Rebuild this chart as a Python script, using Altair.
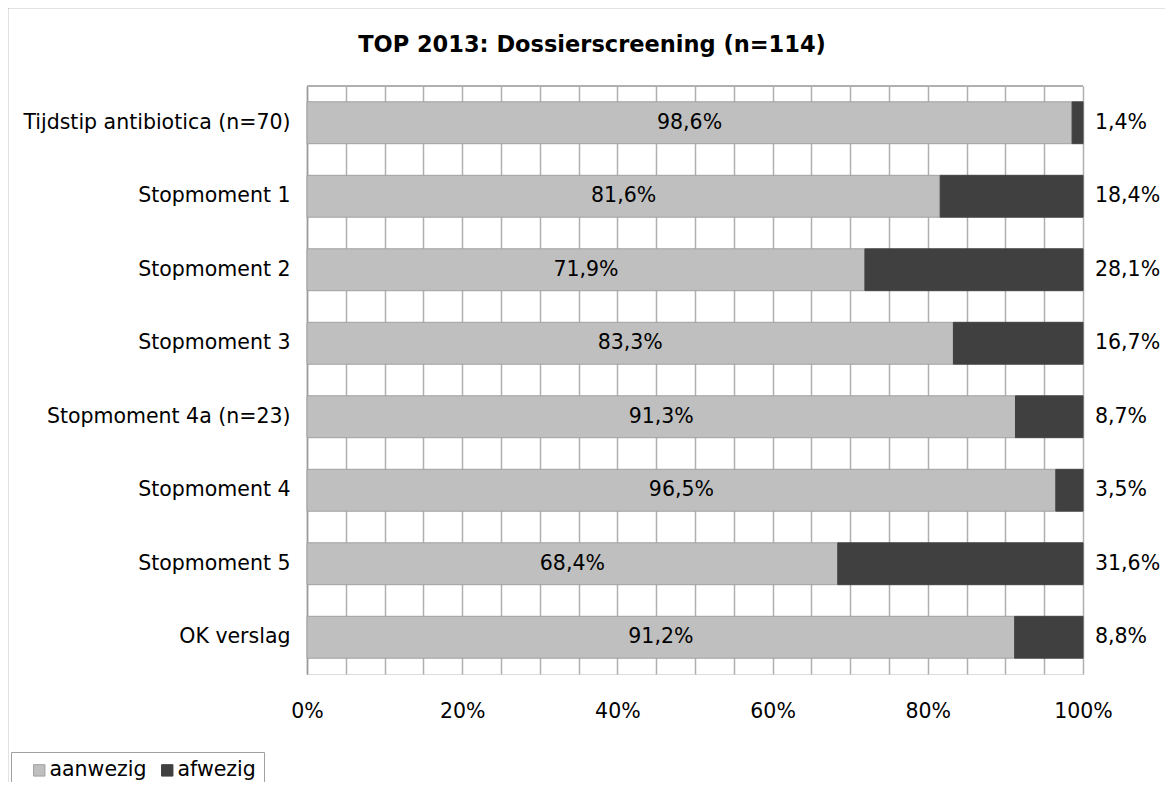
import altair as alt
import pandas as pd

title_text = "TOP 2013: Dossierscreening (n=114)"
categories = [
    "Tijdstip antibiotica (n=70)",
    "Stopmoment 1",
    "Stopmoment 2",
    "Stopmoment 3",
    "Stopmoment 4a (n=23)",
    "Stopmoment 4",
    "Stopmoment 5",
    "OK verslag",
]
aanwezig = [98.6, 81.6, 71.9, 83.3, 91.3, 96.5, 68.4, 91.2]
afwezig = [1.4, 18.4, 28.1, 16.7, 8.7, 3.5, 31.6, 8.8]
series = ["aanwezig", "afwezig"]
colors = ["#BFBFBF", "#404040"]
strokes = ["#A0A0A0", "#404040"]
x_ticks = list(range(0, 101, 5))

FONT = "DejaVu Sans"
FS = 20.5

rows = []
for c, a, b in zip(categories, aanwezig, afwezig):
    rows.append({"category": c, "status": "aanwezig", "value": a, "order": 0,
                 "label": f"{a:.1f}".replace(".", ",") + "%"})
    rows.append({"category": c, "status": "afwezig", "value": b, "order": 1,
                 "label": f"{b:.1f}".replace(".", ",") + "%"})
df = pd.DataFrame(rows)

W, H = 776, 588
PAD_L, PAD_T, PAD_R, PAD_B = 299, 78, 82, 108

x_axis = alt.Axis(values=x_ticks, grid=True, gridColor="#B0B0B0", gridWidth=1.5,
                  domain=False, ticks=False, labelFontSize=FS, labelFont=FONT,
                  labelColor="#000000", labelPadding=27, labelOverlap=False,
                  labelFlush=False,
                  labelExpr="datum.value % 20 == 0 ? datum.value + '%' : ''")
x_scale = alt.Scale(domain=[0, 100], nice=False)
y_axis = alt.Axis(labelFontSize=FS, labelFont=FONT, labelColor="#000000",
                  labelPadding=17, ticks=False, domainColor="#9A9A9A",
                  domainWidth=1.5, labelLimit=400)
y_scale = alt.Scale(paddingInner=0.43, paddingOuter=0.215)


def y_enc():
    return alt.Y("category:N", sort=categories, title=None, scale=y_scale, axis=y_axis)


bars = alt.Chart(df).mark_bar(strokeWidth=1).encode(
    x=alt.X("value:Q", stack="zero", title=None, scale=x_scale, axis=x_axis),
    y=y_enc(),
    color=alt.Color("status:N", scale=alt.Scale(domain=series, range=colors),
                    legend=alt.Legend(title=None, orient="none", legendX=-296, legendY=666,
                                      direction="horizontal", symbolType="square",
                                      symbolSize=130, symbolStrokeWidth=1,
                                      labelFontSize=FS, labelFont=FONT, labelColor="#000000",
                                      strokeColor="#A0A0A0", padding=8, columnPadding=0,
                                      labelOffset=0, symbolOffset=10)),
    stroke=alt.Stroke("status:N", scale=alt.Scale(domain=series, range=strokes), legend=None),
    order=alt.Order("order:Q"),
)

inner = alt.Chart(df).transform_filter(alt.datum.status == "aanwezig").transform_calculate(
    mid="datum.value / 2"
).mark_text(fontSize=FS, font=FONT, color="#000000", align="center", baseline="middle").encode(
    x=alt.X("mid:Q", title=None, scale=x_scale, axis=x_axis), y=y_enc(), text="label:N"
)

outer = alt.Chart(df).transform_filter(alt.datum.status == "afwezig").transform_calculate(
    right="100"
).mark_text(fontSize=FS, font=FONT, color="#000000", align="left", baseline="middle", dx=12).encode(
    x=alt.X("right:Q", title=None, scale=x_scale, axis=x_axis), y=y_enc(), text="label:N"
)

top_rule = alt.Chart(df).mark_rule(color="#B0B0B0", strokeWidth=1.5).encode(
    x=alt.value(0), x2=alt.value(W), y=alt.value(0)
)

frame = alt.Chart(pd.DataFrame({"a": [0]})).mark_rect(
    fillOpacity=0, stroke="#8C8C8C", strokeWidth=1.5
).encode(
    x=alt.value(-299.5), x2=alt.value(W + PAD_R + 40),
    y=alt.value(-78.5), y2=alt.value(H + PAD_B + 40)
)

title = alt.Chart(pd.DataFrame({"t": [title_text]})).mark_text(
    font=FONT, fontSize=22.5, fontWeight="bold", color="#000000", align="center", baseline="middle"
).encode(x=alt.value(285), y=alt.value(-41), text="t:N")

chart = alt.layer(frame, bars, top_rule, inner, outer, title).properties(
    width=W, height=H,
    padding={"left": PAD_L, "top": PAD_T, "right": PAD_R, "bottom": PAD_B},
    autosize=alt.AutoSizeParams(type="none"),
).configure_view(stroke=None).configure(background="white")

chart.save("out.html", embed_options={"renderer": "svg", "actions": False})
